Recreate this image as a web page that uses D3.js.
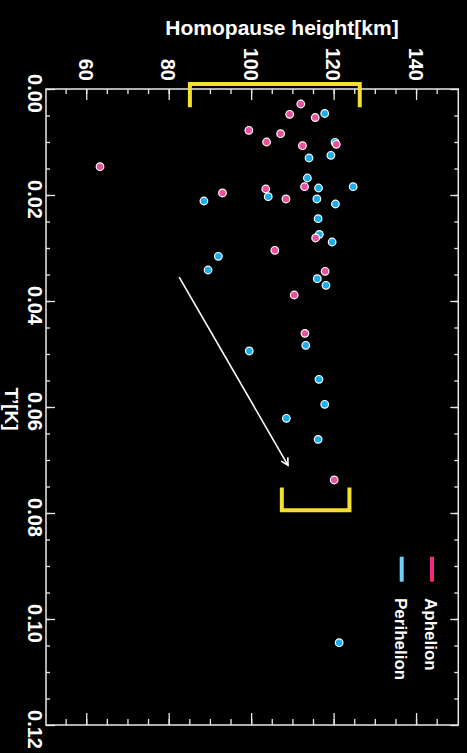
<!DOCTYPE html>
<html>
<head>
<meta charset="utf-8">
<script src="https://cdn.jsdelivr.net/npm/d3@7"></script>
<style>
  html, body { margin: 0; padding: 0; background: #000; }
  svg { display: block; }
  text { font-family: "Liberation Sans", Arial, Helvetica, sans-serif; font-weight: bold; fill: #fff; }
</style>
</head>
<body>
<svg id="chart" width="467" height="753"></svg>
<script>
// Temperature perturbation T' [K] vs homopause height [km]
const aphelionT = [0.00283, 0.00477, 0.00538, 0.00779, 0.00843, 0.0100, 0.0107, 0.01043, 0.01466, 0.01843,
  0.01887, 0.01962, 0.02075, 0.02811, 0.03043, 0.0344, 0.03887, 0.0461, 0.07377];
const aphelionH = [111.8, 109.1, 115.3, 99.2, 106.9, 103.5, 112.2, 120.4, 63.1, 112.7,
  103.3, 92.8, 108.2, 115.4, 105.5, 117.7, 110.2, 112.8, 119.9];

const perihelionT = [0.00462, 0.01006, 0.01302, 0.01251, 0.01679, 0.01868, 0.01843, 0.02032, 0.02075, 0.02113,
  0.0217, 0.02447, 0.02742, 0.02887, 0.03157, 0.03415, 0.03579, 0.03704, 0.04836, 0.04943,
  0.05477, 0.05949, 0.06213, 0.0661, 0.10447];
const perihelionH = [117.6, 120.1, 113.8, 119.1, 113.4, 116.1, 124.5, 103.9, 115.7, 88.3,
  120.2, 116.0, 116.3, 119.4, 91.8, 89.3, 115.8, 117.9, 113.0, 99.3,
  116.2, 117.6, 108.3, 116.0, 121.1];

const heightTicks = [60, 80, 100, 120, 140];
const tTicks = [0, 0.02, 0.04, 0.06, 0.08, 0.10, 0.12];
const seriesNames = ["Aphelion", "Perihelion"];

// bracket annotations: height span, bar and tip positions in T'
const brackets = [
  { lo: 84.9, hi: 126.1, bar: -0.00094, tip: 0.00345 },
  { lo: 107.2, hi: 123.6, bar: 0.0795, tip: 0.0752 }
];
// trend arrow: [T', height] start and end
const arrowFrom = [0.0355, 82.3];
const arrowTo = [0.0710, 108.7];

const pink = "#ec4f9c", blue = "#19aeee";
const frameColor = "#e8e8e8";

const svg = d3.select("#chart");

// Plot drawn in an upright frame, then turned a quarter-turn clockwise
const W = 636, H = 412.3;
const x = d3.scaleLinear().domain([0, 0.12]).range([0, W]);
const y = d3.scaleLinear().domain([50, 150]).range([H, 0]);

const g = svg.append("g").attr("transform", "translate(458.3,89) rotate(90)");

function styleAxis(sel) {
  sel.select(".domain").remove();
  sel.selectAll("line").attr("stroke", frameColor).attr("stroke-width", 1.3);
  sel.selectAll("text").style("font-size", "20px").attr("fill", "#fff");
}

// minor ticks
const minorH = d3.range(55, 150, 5);
const minorT = d3.range(0.005, 0.12, 0.005);

g.append("g").call(d3.axisLeft(y).tickValues(minorH).tickSize(-5).tickFormat("")).call(styleAxis);
g.append("g").attr("transform", `translate(${W},0)`)
  .call(d3.axisRight(y).tickValues(minorH).tickSize(-6).tickFormat("")).call(styleAxis);
g.append("g").attr("transform", `translate(0,${H})`)
  .call(d3.axisBottom(x).tickValues(minorT).tickSize(-4).tickFormat("")).call(styleAxis);
g.append("g")
  .call(d3.axisTop(x).tickValues(minorT).tickSize(-4).tickFormat("")).call(styleAxis);

// major ticks and labels
const hAxis = g.append("g")
  .call(d3.axisLeft(y).tickValues(heightTicks).tickSize(-11).tickPadding(8).tickFormat(d3.format("d")))
  .call(styleAxis);
hAxis.selectAll("text").attr("dy", "0.4em");

g.append("g").attr("transform", `translate(${W},0)`)
  .call(d3.axisRight(y).tickValues(heightTicks).tickSize(-12).tickFormat("")).call(styleAxis);

const tAxis = g.append("g").attr("transform", `translate(0,${H})`)
  .call(d3.axisBottom(x).tickValues(tTicks).tickSize(-9).tickPadding(4).tickFormat(d3.format(".2f")))
  .call(styleAxis);
tAxis.selectAll("text").attr("dx", 4);

g.append("g")
  .call(d3.axisTop(x).tickValues(tTicks).tickSize(-8).tickFormat("")).call(styleAxis);

// frame
g.append("rect").attr("x", 0).attr("y", 0).attr("width", W).attr("height", H)
  .attr("fill", "none").attr("stroke", frameColor).attr("stroke-width", 1.5);

// brackets
g.selectAll("path.bracket").data(brackets).join("path")
  .attr("class", "bracket")
  .attr("d", d => `M${x(d.tip)},${y(d.lo)}L${x(d.bar)},${y(d.lo)}L${x(d.bar)},${y(d.hi)}L${x(d.tip)},${y(d.hi)}`)
  .attr("fill", "none").attr("stroke", "#f6df2e").attr("stroke-width", 4)
  .attr("stroke-linejoin", "miter").attr("stroke-linecap", "butt");

// trend arrow
const ax0 = x(arrowFrom[0]), ay0 = y(arrowFrom[1]);
const ax1 = x(arrowTo[0]), ay1 = y(arrowTo[1]);
g.append("line").attr("x1", ax0).attr("y1", ay0).attr("x2", ax1).attr("y2", ay1)
  .attr("stroke", "#fff").attr("stroke-width", 1.6);
const ang = Math.atan2(ay1 - ay0, ax1 - ax0);
const headLen = 8, headSpread = 0.5;
g.append("path")
  .attr("d", `M${ax1 - headLen * Math.cos(ang - headSpread)},${ay1 - headLen * Math.sin(ang - headSpread)}` +
             `L${ax1},${ay1}` +
             `L${ax1 - headLen * Math.cos(ang + headSpread)},${ay1 - headLen * Math.sin(ang + headSpread)}`)
  .attr("fill", "none").attr("stroke", "#fff").attr("stroke-width", 1.6);

// points: perihelion beneath aphelion
const peri = perihelionT.map((t, i) => ({ t, h: perihelionH[i] }));
const aph = aphelionT.map((t, i) => ({ t, h: aphelionH[i] }));

g.append("g").selectAll("circle").data(peri).join("circle")
  .attr("cx", d => x(d.t)).attr("cy", d => y(d.h)).attr("r", 3.8)
  .attr("fill", blue).attr("stroke", "#fff").attr("stroke-width", 1.2);
g.append("g").selectAll("circle").data(aph).join("circle")
  .attr("cx", d => x(d.t)).attr("cy", d => y(d.h)).attr("r", 3.8)
  .attr("fill", pink).attr("stroke", "#fff").attr("stroke-width", 1.2);

// legend
const legendColors = ["#f02a7c", "#6ccff6"];
const legend = g.append("g");
seriesNames.forEach((name, i) => {
  const v = 26.3 + i * 30.3;
  legend.append("rect").attr("x", 467.7).attr("y", v - 2).attr("width", 25).attr("height", 4)
    .attr("fill", legendColors[i]);
  legend.append("text").attr("x", 509).attr("y", v + 7).style("font-size", "17px").text(name);
});

// axis titles
svg.append("text").attr("x", 282).attr("y", 35).attr("text-anchor", "middle")
  .style("font-size", "21px").text("Homopause height[km]");
svg.append("text").attr("transform", "translate(4.5,409) rotate(90)").attr("text-anchor", "middle")
  .style("font-size", "19px").text("T’[K]");
</script>
</body>
</html>
